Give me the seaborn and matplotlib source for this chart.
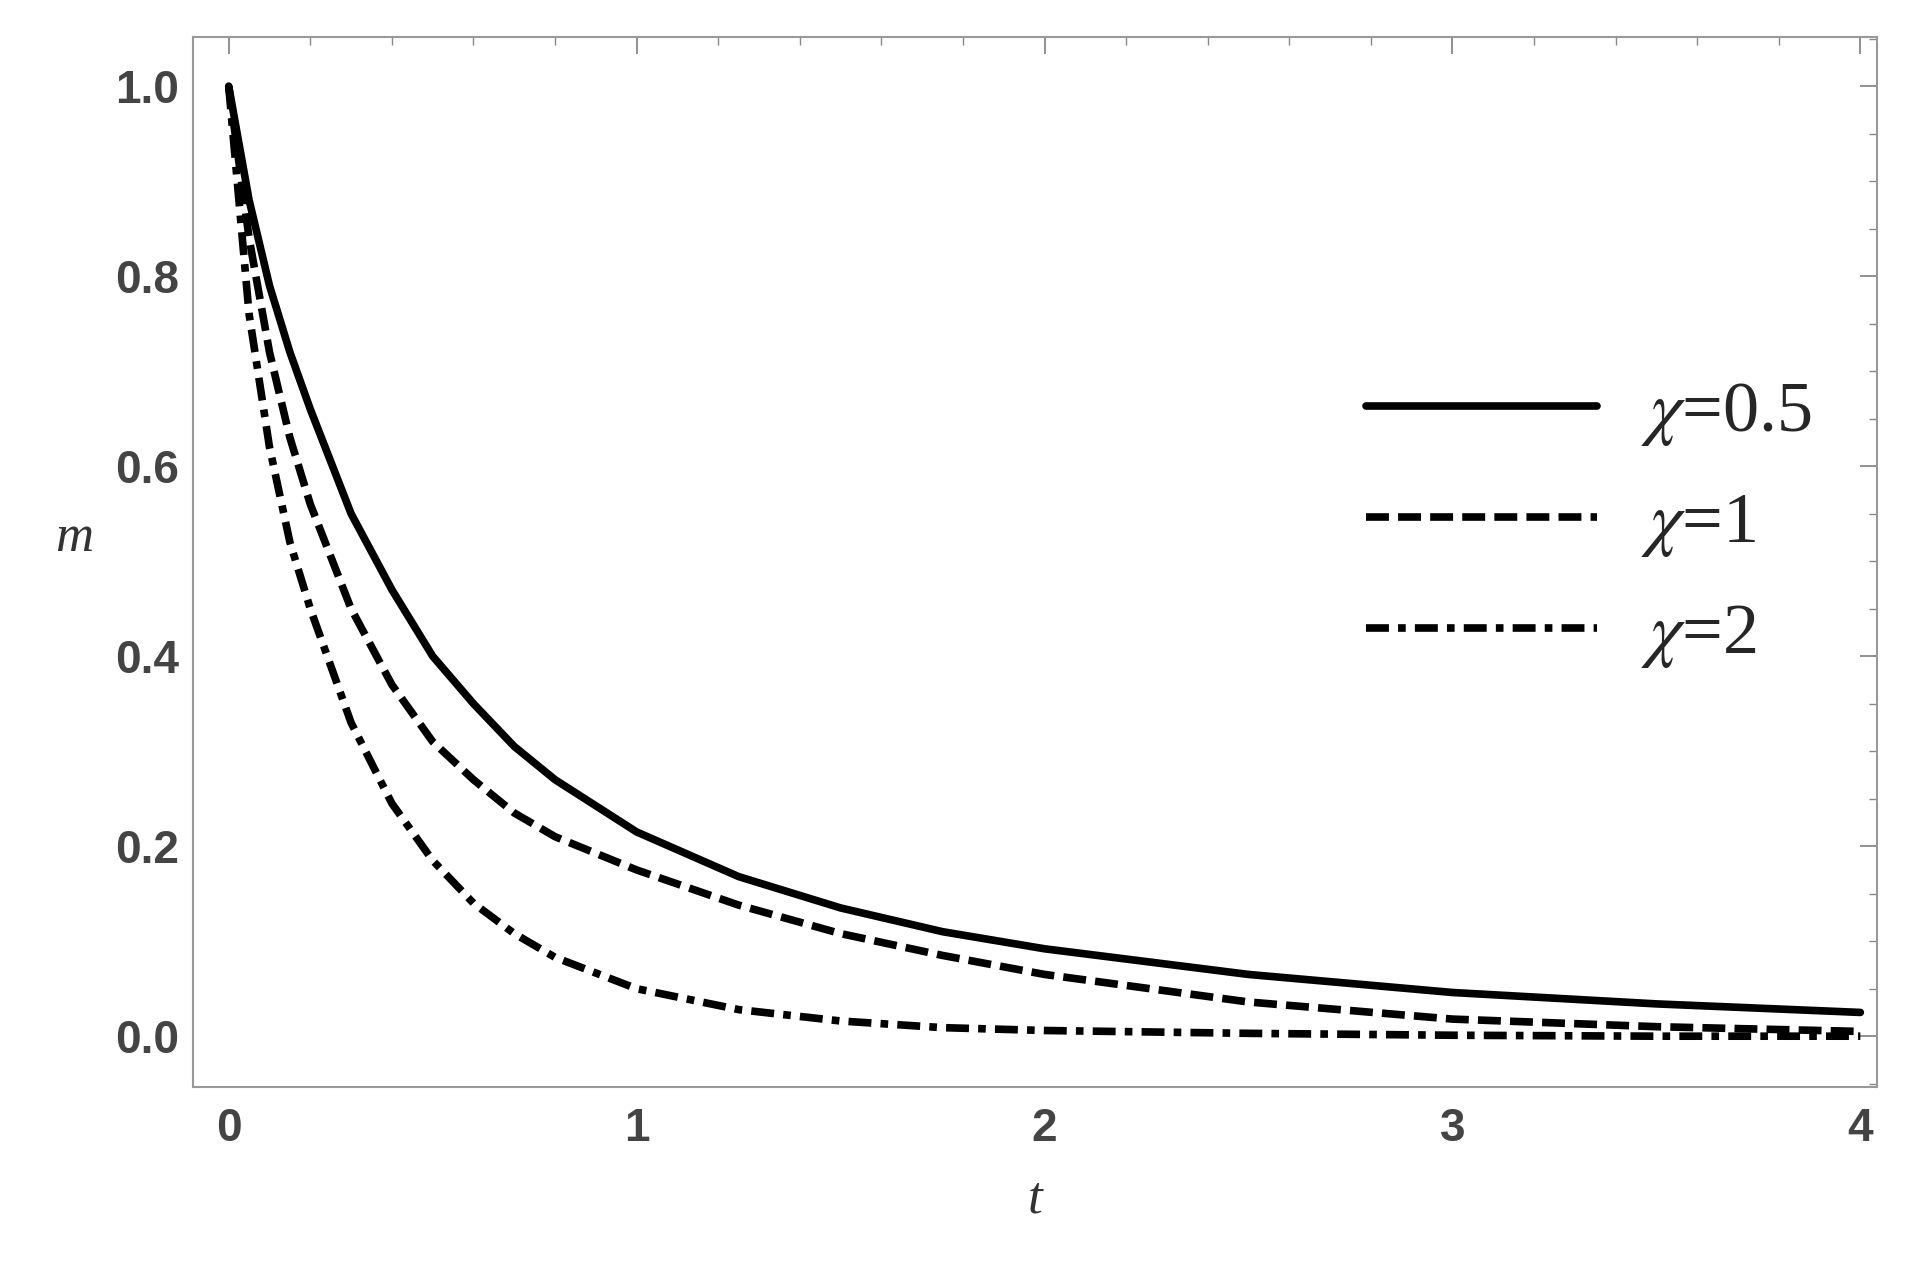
import matplotlib
matplotlib.use("Agg")
import matplotlib.pyplot as plt
import seaborn as sns
import pandas as pd
from matplotlib.ticker import MultipleLocator, AutoMinorLocator

t = [0, 0.05, 0.1, 0.15, 0.2, 0.3, 0.4, 0.5, 0.6, 0.7, 0.8, 1.0, 1.25, 1.5, 1.75, 2.0, 2.5, 3.0, 3.5, 4.0]
m_05 = [1.0, 0.88, 0.79, 0.72, 0.66, 0.55, 0.47, 0.40, 0.35, 0.305, 0.27, 0.215, 0.168, 0.135, 0.11, 0.092, 0.065, 0.046, 0.034, 0.025]
m_1 = [1.0, 0.84, 0.72, 0.63, 0.56, 0.45, 0.37, 0.31, 0.27, 0.235, 0.21, 0.175, 0.138, 0.108, 0.085, 0.065, 0.036, 0.018, 0.010, 0.005]
m_2 = [1.0, 0.76, 0.62, 0.52, 0.45, 0.33, 0.245, 0.185, 0.14, 0.108, 0.083, 0.05, 0.028, 0.016, 0.009, 0.006, 0.003, 0.001, 0.0, 0.0]
labels = [r"$\chi$=0.5", r"$\chi$=1", r"$\chi$=2"]
styles = ["-", (0, (3, 1.2)), (0, (3, 1.2, 1, 1.2))]

sns.set_style("white")
plt.rcParams["mathtext.fontset"] = "stix"
fig = plt.figure(figsize=(19.13, 12.66), dpi=100)
ax = fig.add_axes([0.101, 0.141, 0.88, 0.83])

for vals, lab, ls in zip([m_05, m_1, m_2], labels, styles):
    df = pd.DataFrame({"t": t, "m": vals})
    sns.lineplot(data=df, x="t", y="m", ax=ax, color="black", lw=5.5, linestyle=ls, label=lab)

ax.set_xlim(-0.087, 4.04)
ax.set_ylim(-0.054, 1.052)
ax.xaxis.set_major_locator(MultipleLocator(1))
ax.yaxis.set_major_locator(MultipleLocator(0.2))
ax.xaxis.set_minor_locator(AutoMinorLocator(5))
ax.yaxis.set_minor_locator(AutoMinorLocator(4))
ax.tick_params(which="both", direction="in", top=True, right=True, color="#888888")
ax.tick_params(which="major", length=12, width=1.3)
ax.tick_params(which="minor", length=6, width=1)
ax.tick_params(axis="x", pad=14)
ax.tick_params(axis="y", pad=10)
for lab in ax.get_xticklabels() + ax.get_yticklabels():
    lab.set_fontfamily("Liberation Sans")
    lab.set_fontweight("bold")
    lab.set_fontsize(33)
    lab.set_color("#444444")
ax.yaxis.set_major_formatter(matplotlib.ticker.FormatStrFormatter("%.1f"))
for s in ax.spines.values():
    s.set_color("#999999")
    s.set_linewidth(1.5)
ax.set_xlabel("t", fontfamily="Liberation Serif", style="italic", fontsize=38, color="#333333", labelpad=18)
ax.set_ylabel("m", fontfamily="Liberation Serif", style="italic", fontsize=38, color="#333333", rotation=0, labelpad=30)
leg = ax.legend(loc="center right", bbox_to_anchor=(1.0, 0.535), frameon=False,
                prop={"family": "Liberation Serif", "size": 52},
                handlelength=3.2, handletextpad=0.6, labelspacing=0.6)
for h in leg.get_lines():
    h.set_linewidth(5.5)
fig.savefig("out.png", dpi=100, facecolor="white")
